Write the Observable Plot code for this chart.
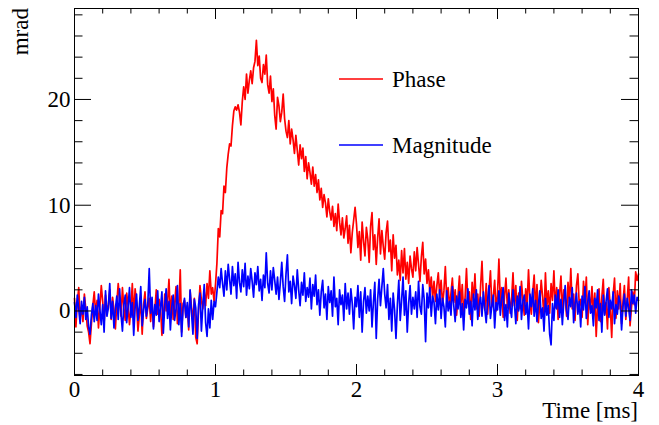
<!DOCTYPE html>
<html>
<head>
<meta charset="utf-8">
<script src="https://cdn.jsdelivr.net/npm/d3@7"></script>
<script src="https://cdn.jsdelivr.net/npm/@observablehq/plot@0.6"></script>
<style>
  html, body { margin: 0; padding: 0; background: #fff; }
  svg { display: block; }
</style>
</head>
<body>
<div id="chart"></div>
<script>
// Sampling of the time axis (ms)
const t0 = 0;
const dt = 0.01;

// Phase signal (mrad), one value per 0.01 ms from 0 to 4 ms
const phase = [
  1.2, -1.5, 0.8, 2.2, -0.6, 0.4, -1.0, 1.6, 0.2, -1.4,
  -2.0, -3.1, -1.2, 0.5, 1.8, -0.3, 1.0, -1.6, 0.4, 2.4,
  0.9, -1.1, 1.5, -0.2, 0.6, 2.0, -0.8, 1.3, 0.1, -1.7,
  0.7, 2.6, 1.1, -0.5, 2.2, 0.3, -0.9, 1.7, 0.5, -1.3,
  0.2, 2.6, -0.6, 2.1, 0.8, -1.9, -0.4, 1.0, -2.2, 0.6,
  1.8, -0.7, 0.3, 1.2, -1.0, 0.9, -1.5, 0.1, 2.0, -0.3,
  1.1, 0.4, -2.3, -0.9, 1.6, 0.0, 0.8, 3.0, -0.5, 1.4,
  -0.8, 0.6, 2.3, -1.2, 0.2, 3.9, -2.0, 0.7, 1.0, -0.6,
  0.5, -1.8, 1.9, 0.3, -0.9, 1.2, -2.5, -3.1, 0.1, 2.4,
  1.0, 0.2, 1.8, 0.5, 2.6, 1.2, 3.8, 1.6, 2.2, 0.9,
  2.5, 4.5, 7.8, 7.0, 9.5, 9.2, 11.8, 11.2, 13.5, 14.8,
  15.8, 15.6, 17.5, 18.9, 19.3, 19.0, 19.5, 18.8, 17.6, 19.8,
  21.2, 20.0, 22.4, 20.6, 21.8, 22.7, 21.5, 23.0, 23.6, 25.6,
  23.2, 24.1, 22.0, 21.6, 23.3, 22.4, 24.2, 21.4, 20.6, 22.2,
  19.8, 21.0, 18.5, 17.2, 20.2, 19.4, 17.9, 18.8, 20.5, 18.2,
  17.0, 16.4, 18.0, 15.8, 17.2, 16.2, 14.9, 16.6, 15.2, 13.8,
  15.7, 14.4, 15.4, 13.2, 14.6, 12.5, 14.0, 13.1, 12.0, 13.6,
  11.8, 12.9, 11.2, 12.4, 10.5, 11.6, 9.8, 11.0, 10.2, 8.9,
  10.6, 9.4, 8.6, 9.9, 8.0, 9.2, 7.6, 10.1, 8.4, 7.2,
  8.8, 6.9, 7.8, 9.0, 6.4, 8.1, 5.5, 7.4, 8.6, 9.8,
  8.2, 6.0, 7.5, 4.8, 8.4, 6.6, 5.2, 7.9, 6.8, 4.6,
  8.0, 9.3, 5.8, 7.2, 4.4, 6.9, 8.7, 5.4, 7.6, 6.1,
  4.9, 7.4, 8.5, 5.6, 6.7, 3.8, 7.2, 5.0, 6.2, 3.4,
  4.8, 2.9, 5.7, 3.6, 5.9, 3.0, 4.6, 2.6, 5.2, 4.0,
  3.2, 5.6, 3.8, 6.0, 4.4, 2.8, 5.1, 6.5, 3.5, 4.9,
  2.6, 3.9, 1.8, 3.2, 1.2, 2.8, 0.9, 2.4, 3.6, 1.5,
  2.9, 0.6, 1.9, 4.2, 1.1, 2.2, 0.3, 1.7, 3.1, 0.8,
  2.0, -0.4, 1.4, 3.3, 0.5, 2.5, -0.2, 1.2, 4.0, 0.7,
  1.8, -0.8, 2.7, 0.9, 3.5, 0.2, 1.6, -0.5, 2.3, 4.7,
  1.0, 0.1, 2.6, -0.3, 1.9, 3.8, 0.4, 1.3, 2.9, 0.0,
  1.6, 4.9, 0.8, 2.2, -0.6, 1.4, 3.1, 0.3, 2.0, -0.2,
  1.1, 3.6, 0.5, 2.4, -0.9, 1.7, 0.2, 2.8, 1.0, -0.4,
  2.1, 0.6, 3.9, 0.9, -0.3, 1.8, 3.4, 0.1, 2.5, -1.1,
  0.7, 2.9, 1.3, -0.6, 3.6, 0.4, 1.9, -0.2, 2.6, 1.0,
  3.8, 0.3, 2.2, -0.8, 1.5, 3.3, 0.0, 2.0, 1.2, -0.5,
  2.7, 0.8, 4.0, 0.2, 1.6, -0.9, 2.4, 3.5, 0.5, 1.1,
  -0.6, 2.8, 0.9, 3.2, -1.3, 1.4, 0.1, 2.3, -0.4, 1.7,
  -2.4, 0.6, 2.1, -1.0, 1.3, 3.0, -0.3, 0.8, -1.7, 2.2,
  0.4, -2.5, 1.5, 3.1, -0.7, 1.9, 0.2, 2.6, -1.2, 0.9,
  2.4, -0.8, 1.0, 3.2, -1.4, 0.3, 1.8, 0.6, 3.7, 2.9,
  3.5
];

// Magnitude signal (mrad), same sampling
const magnitude = [
  0.8, -0.6, 1.5, 0.2, -1.2, 0.9, -0.3, 1.3, -0.8, 0.4,
  -1.5, -2.2, -0.4, 0.7, -1.0, 0.5, -0.9, 1.6, 0.1, -1.3,
  0.6, -2.0, 1.9, -0.5, 0.3, 2.6, -0.7, 0.9, -1.6, 0.2,
  1.4, -0.8, 2.1, -0.3, -1.9, 0.6, 1.5, -1.1, 0.4, 2.2,
  -0.6, 0.8, -2.3, 0.3, 1.6, -0.9, 0.5, 2.3, -1.4, 0.1,
  1.1, -0.5, 0.7, 4.0, -0.2, 1.3, -1.7, 0.6, -0.4, 1.9,
  -1.0, 0.3, 1.8, -2.1, 0.5, 2.1, -0.7, 0.9, -1.8, 0.4,
  1.5, -0.9, 0.2, 2.4, -1.3, 0.7, -2.4, 0.3, 1.2, -0.6,
  0.8, -1.5, 2.0, -0.2, -2.2, 1.1, 0.3, -2.6, 0.6, 1.7,
  -1.9, 0.5, 2.5, -1.1, -2.4, 0.2, -1.6, 1.0, -0.8, 0.9,
  0.4, 1.8, 3.2, 2.2, 4.0, 2.6, 1.4, 3.8, 2.0, 4.4,
  3.0, 1.6, 4.2, 2.4, 3.5, 1.2, 4.6, 2.7, 1.8, 3.9,
  2.3, 4.5, 1.5, 3.3, 2.1, 4.0, 2.8, 1.3, 3.6, 2.5,
  4.2, 1.9, 3.0, 1.0, 3.4, 2.2, 5.5, 2.6, 1.7, 3.8,
  2.0, 4.1, 2.9, 1.6, 3.2, 1.1, 2.7, 4.6, 2.3, 0.9,
  3.5, 5.3, 1.8, 2.8, 0.7, 3.3, 2.4, 1.2, 3.9, 2.0,
  0.5, 2.7, 1.5, 3.6, 0.9, 2.2, 1.3, 3.1, 0.2, 2.5,
  1.4, 3.4, 0.6, 2.0, -0.4, 1.8, 2.9, 0.3, 1.6, -0.8,
  2.3, 0.8, 1.9, -0.5, 3.2, 0.4, 1.2, -1.3, 2.0, 0.6,
  1.5, -0.9, 2.6, 0.2, 1.7, -0.3, 2.1, 0.7, -1.7, 1.3,
  0.4, 2.4, -0.6, 1.8, -2.0, 0.9, 2.2, -0.2, 1.4, 0.0,
  2.0, -1.5, 0.8, 2.7, -2.6, 1.1, 3.0, 0.5, 2.3, 4.0,
  1.6, 0.3, 2.5, -0.8, 1.2, -1.9, 1.7, 0.1, -2.6, 0.6,
  2.9, -0.9, 1.0, 3.2, -0.4, 1.9, -2.0, 0.7, 2.4, -0.3,
  1.3, 0.2, 1.8, -0.6, 2.8, 0.4, -0.3, 2.5, 1.1, -2.9,
  1.7, 0.3, 2.2, -0.5, 1.4, 0.8, -1.2, 1.6, 0.1, 2.0,
  -0.7, 1.2, 0.4, -1.5, 1.9, 0.0, 0.9, -0.4, 2.3, 0.5,
  -1.0, 1.4, 0.2, 1.8, -0.6, 0.7, -1.8, 1.1, 0.3, 2.1,
  -0.3, 0.9, -1.4, 1.6, 0.1, 2.0, -0.8, 0.6, 1.3, -0.5,
  1.8, 0.2, -1.1, 1.0, 2.4, -0.7, 0.5, 1.5, -1.6, 0.8,
  0.1, 1.9, -0.4, 1.2, 2.2, -0.9, 0.6, -1.5, 1.7, 0.3,
  -0.6, 2.0, 0.7, -1.2, 1.4, 0.0, 2.3, -0.8, 0.9, 1.5,
  -0.3, 0.8, -1.7, 1.6, 0.4, 2.1, -0.5, 1.0, -1.0, 0.6,
  1.9, -0.7, 0.3, -1.9, 1.2, -0.4, 0.5, -2.2, -3.2, 0.7,
  -0.9, 1.5, 0.2, 2.0, -0.6, 1.1, -1.3, 0.8, 2.4, 0.0,
  -0.8, 1.3, 0.4, 2.2, -1.1, 0.6, 1.7, -0.3, 0.9, -1.5,
  1.4, 0.1, 2.3, -0.7, 0.8, 1.9, -0.2, 0.5, -1.4, 1.2,
  0.3, 2.0, -0.9, 0.7, -2.0, 1.5, -0.4, 0.9, 2.1, -0.6,
  1.0, 0.2, 1.8, -1.2, 0.6, -0.3, 1.4, 0.8, -1.8, 0.4,
  1.6, -0.5, 1.2, 0.3, -0.9, 2.0, 0.7, 1.5, -0.2, 1.3,
  1.0
];

// Axis ticks
const xMajor = [0, 1, 2, 3, 4];
const xMinor = d3.range(0, 4.0001, 0.2).filter(v => Math.abs(v - Math.round(v)) > 1e-6);
const yMajor = [0, 10, 20];
const yMinor = d3.range(-6, 28.001, 2).filter(v => Math.abs(v % 10) > 1e-6);

// Series / legend
const seriesNames = ["Phase", "Magnitude"];
const seriesColors = ["#ff0000", "#0000ff"];
const xTitle = "Time [ms]";
const yTitle = "mrad";

const rows = phase.map((p, i) => ({t: t0 + i * dt, phase: p, magnitude: magnitude[i]}));

const W = 659, H = 425;
const mL = 74, mR = 21, mT = 8, mB = 50;
const fw = W - mL - mR, fh = H - mT - mB;
const font = '"Liberation Serif", "Times New Roman", Times, serif';
const fs = 23;

const plot = Plot.plot({
  width: W,
  height: H,
  marginLeft: mL,
  marginRight: mR,
  marginTop: mT,
  marginBottom: mB,
  style: {fontFamily: font, fontSize: fs + "px", background: "white", color: "black"},
  x: {domain: [0, 4]},
  y: {domain: [-6.1, 28.6]},
  marks: [
    Plot.line(rows, {x: "t", y: "phase", stroke: seriesColors[0], strokeWidth: 1.7}),
    Plot.line(rows, {x: "t", y: "magnitude", stroke: seriesColors[1], strokeWidth: 1.7}),
    // inward ticks, bottom and top
    Plot.ruleX(xMajor, {x: d => d, insetTop: fh - 11, stroke: "black"}),
    Plot.ruleX(xMajor, {x: d => d, insetBottom: fh - 11, stroke: "black"}),
    Plot.ruleX(xMinor, {x: d => d, insetTop: fh - 5.5, stroke: "black"}),
    Plot.ruleX(xMinor, {x: d => d, insetBottom: fh - 5.5, stroke: "black"}),
    // inward ticks, left and right
    Plot.ruleY(yMajor, {y: d => d, insetRight: fw - 17, stroke: "black"}),
    Plot.ruleY(yMajor, {y: d => d, insetLeft: fw - 17, stroke: "black"}),
    Plot.ruleY(yMinor, {y: d => d, insetRight: fw - 8.5, stroke: "black"}),
    Plot.ruleY(yMinor, {y: d => d, insetLeft: fw - 8.5, stroke: "black"}),
    Plot.frame({stroke: "black", strokeWidth: 1}),
    Plot.axisX(xMajor, {tickSize: 0, tickPadding: 5, tickFormat: d => String(d), label: null, fontSize: fs, fontFamily: font}),
    Plot.axisY(yMajor, {tickSize: 0, tickPadding: 4, tickFormat: d => String(d), label: null, fontSize: fs, fontFamily: font})
  ]
});

const svg = d3.select(plot);
// axis titles
svg.append("text")
  .attr("x", mL + fw).attr("y", 418)
  .attr("text-anchor", "end")
  .style("font-family", font).style("font-size", fs + "px")
  .attr("fill", "black")
  .text(xTitle);
svg.append("text")
  .attr("transform", "translate(28," + mT + ") rotate(-90)")
  .attr("text-anchor", "end")
  .style("font-family", font).style("font-size", fs + "px")
  .attr("fill", "black")
  .text(yTitle);

// legend
const legend = svg.append("g").attr("transform", "translate(339,79)");
seriesNames.forEach((name, i) => {
  const g = legend.append("g").attr("transform", "translate(0," + (i * 66) + ")");
  g.append("line").attr("x1", 0).attr("x2", 44).attr("y1", 0).attr("y2", 0)
    .attr("stroke", seriesColors[i]).attr("stroke-width", 1.7);
  g.append("text").attr("x", 53).attr("y", 8)
    .attr("text-anchor", "start")
    .style("font-family", font).style("font-size", fs + "px")
    .attr("fill", "black")
    .text(name);
});

document.getElementById("chart").appendChild(plot);
</script>
</body>
</html>
